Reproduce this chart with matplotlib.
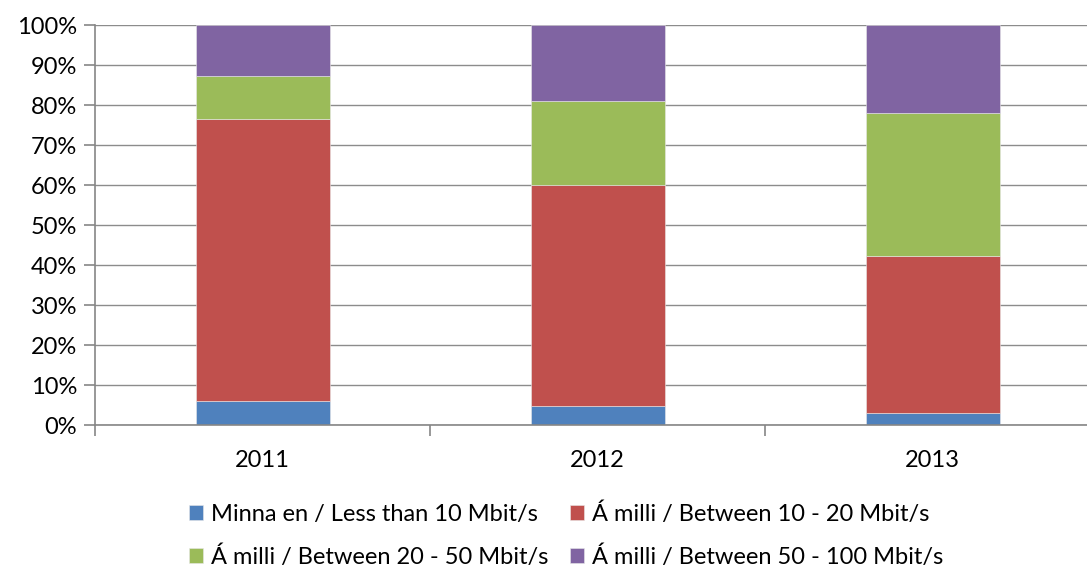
import matplotlib.pyplot as plt
from matplotlib.ticker import FixedLocator, PercentFormatter

years = ['2011', '2012', '2013']
less_10 = [5.9, 4.7, 2.9]
between_10_20 = [70.7, 55.2, 39.4]
between_20_50 = [10.7, 21.1, 35.8]
between_50_100 = [12.7, 19.0, 21.9]

series = [
    ('Minna en / Less than 10 Mbit/s', less_10, '#4F81BD'),
    ('Á milli / Between 10 - 20 Mbit/s', between_10_20, '#C0504D'),
    ('Á milli / Between 20 - 50 Mbit/s', between_20_50, '#9BBB59'),
    ('Á milli / Between 50 - 100 Mbit/s', between_50_100, '#8064A2'),
]

plt.rcParams['font.family'] = ['Lato', 'DejaVu Sans']

fig = plt.figure(figsize=(10.87, 5.74), dpi=100)
ax = fig.add_axes([95 / 1087, 149 / 574, 1005 / 1087, 400 / 574])

x = list(range(len(years)))
bottom = [0.0] * len(years)
handles = []
for label, vals, color in series:
    h = ax.bar(x, vals, width=0.4, bottom=bottom, color=color, label=label,
               edgecolor='#e8e8e8', linewidth=0.4)
    handles.append(h)
    bottom = [b + v for b, v in zip(bottom, vals)]

ax.set_xlim(-0.5, 2.5)
ax.set_ylim(0, 100)
ax.yaxis.set_major_locator(FixedLocator(range(0, 101, 10)))
ax.yaxis.set_major_formatter(PercentFormatter(decimals=0))
ax.yaxis.grid(True, color='#8c8c8c', linewidth=1.0)
ax.set_axisbelow(True)

ax.set_xticks(x)
ax.set_xticklabels(years)
ax.xaxis.set_minor_locator(FixedLocator([-0.5, 0.5, 1.5, 2.5]))
ax.tick_params(axis='x', which='major', length=0, labelsize=17, pad=18)
ax.tick_params(axis='x', which='minor', length=8, color='#868686', width=1.2)
ax.tick_params(axis='y', length=8, color='#868686', width=1.2, labelsize=17, pad=5)

for side in ['top', 'right']:
    ax.spines[side].set_visible(False)
for side in ['left', 'bottom']:
    ax.spines[side].set_color('#868686')
    ax.spines[side].set_linewidth(1.2)

# legend fills column-wise, so reorder to read row by row
order = [0, 2, 1, 3]
fig.legend([handles[i] for i in order], [series[i][0] for i in order],
           loc='center', bbox_to_anchor=(566 / 1087, 1 - 535 / 574), ncol=2,
           frameon=False, fontsize=17, handlelength=0.6, handleheight=0.6,
           handletextpad=0.35, columnspacing=0.9, labelspacing=0.85)

fig.savefig('out.png', dpi=100)
